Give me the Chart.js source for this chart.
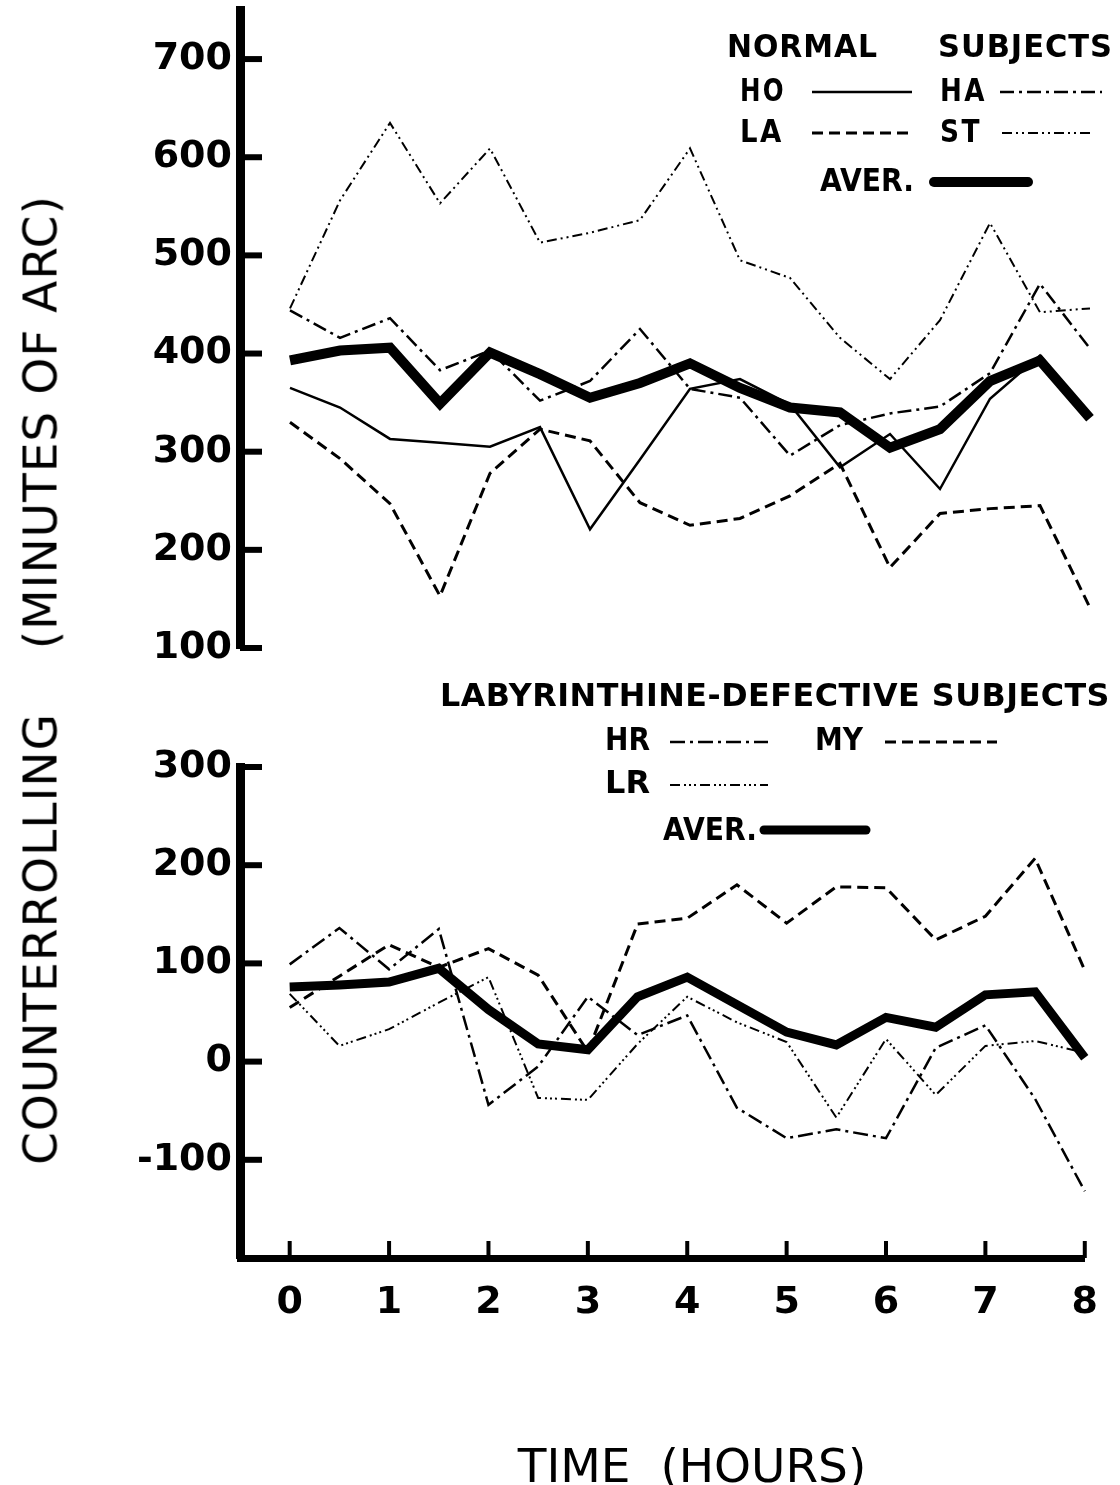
<!DOCTYPE html>
<html>
<head>
<meta charset="utf-8">
<script src="https://cdn.jsdelivr.net/npm/chart.js@4.4.1/dist/chart.umd.min.js"></script>
<style>
  body { margin: 0; background: #fff; }
  #wrap { position: relative; width: 1120px; height: 1485px; background: #fff; overflow: hidden; }
  canvas { position: absolute; left: 0; }
  #topChart { top: 0; }
  #bottomChart { top: 680px; }
  .ytitle {
    position: absolute; left: 40px; top: 680px;
    transform: translate(-50%, -50%) rotate(-90deg);
    font: 47px 'DejaVu Sans'; letter-spacing: 1px; white-space: pre; color: #000;
  }
  .xtitle {
    position: absolute; left: 692px; top: 1465px;
    transform: translate(-50%, -50%);
    font: 47px 'DejaVu Sans'; white-space: pre; color: #000;
  }
</style>
</head>
<body>
<div id="wrap">
  <canvas id="topChart" width="1120" height="680" style="width:1120px;height:680px"></canvas>
  <canvas id="bottomChart" width="1120" height="805" style="width:1120px;height:805px"></canvas>
  <div class="ytitle">COUNTERROLLING    (MINUTES OF ARC)</div>
  <div class="xtitle">TIME  (HOURS)</div>
</div>
<script>
// time in hours, one reading every half hour
const hours = [0, 0.5, 1, 1.5, 2, 2.5, 3, 3.5, 4, 4.5, 5, 5.5, 6, 6.5, 7, 7.5, 8];
const hourTicks = [0, 1, 2, 3, 4, 5, 6, 7, 8];
const topTicks = [100, 200, 300, 400, 500, 600, 700];
const bottomTicks = [-100, 0, 100, 200, 300];

// normal subjects (minutes of arc)
const hoValues = [365, 345, 313, 309, 305, 325, 221, 292, 364, 374, 348, 284, 318, 262, 354, 398, 338];
const laValues = [330, 293, 247, 153, 278, 323, 311, 248, 225, 232, 255, 288, 182, 237, 242, 245, 141];
const haValues = [444, 416, 436, 383, 403, 352, 372, 425, 364, 355, 296, 327, 339, 346, 380, 471, 405];
const stValues = [446, 556, 635, 553, 609, 513, 523, 536, 609, 495, 477, 416, 374, 434, 533, 442, 446];
const normAver = [393, 403, 406, 349, 401, 379, 355, 370, 390, 365, 345, 340, 304, 323, 372, 393, 334];

// labyrinthine-defective subjects
const hrValues = [99, 136, 94, 135, -44, -5, 66, 27, 47, -47, -78, -69, -78, 14, 37, -38, -132];
const myValues = [55, 87, 119, 96, 115, 88, 10, 140, 146, 180, 141, 178, 177, 124, 148, 207, 93];
const lrValues = [69, 16, 33, 60, 86, -37, -39, 18, 66, 40, 20, -57, 23, -34, 16, 21, 9];
const defAver = [76, 78, 81, 95, 53, 18, 12, 66, 86, 58, 30, 17, 45, 35, 68, 71, 4];

const pts = arr => hours.map((h, i) => ({ x: h, y: arr[i] }));

const tickFont = { family: 'DejaVu Sans', size: 38, weight: 'bold' };
// tiny line height so the y labels don't push the plot area down
const yTickFont = { family: 'DejaVu Sans', size: 38, weight: 'bold', lineHeight: 0.05 };
const legendFont = "bold 32px 'DejaVu Sans'";

function line(label, values, width, dash) {
  return {
    label: label,
    data: pts(values),
    borderColor: '#000',
    borderWidth: width,
    borderDash: dash,
    pointRadius: 0,
    tension: 0,
    fill: false,
    clip: false,
    borderJoinStyle: 'miter',
    borderCapStyle: 'butt'
  };
}

// inward tick marks on the y axis, upward ones on the x axis
const tickMarks = {
  id: 'tickMarks',
  afterDraw(chart, args, opts) {
    const { ctx, chartArea, scales } = chart;
    ctx.save();
    ctx.strokeStyle = '#000';
    ctx.lineWidth = 6;
    scales.y.ticks.forEach(t => {
      const y = scales.y.getPixelForValue(t.value);
      ctx.beginPath();
      ctx.moveTo(chartArea.left, y);
      ctx.lineTo(chartArea.left + 22, y);
      ctx.stroke();
    });
    if (opts.xTicks) {
      ctx.lineWidth = 4;
      scales.x.ticks.forEach(t => {
        const x = scales.x.getPixelForValue(t.value);
        ctx.beginPath();
        ctx.moveTo(x, chartArea.bottom);
        ctx.lineTo(x, chartArea.bottom - 17);
        ctx.stroke();
      });
    }
    ctx.restore();
  }
};

// hand placed legend like the original drawing
const keyLegend = {
  id: 'keyLegend',
  afterDraw(chart, args, opts) {
    const ctx = chart.ctx;
    ctx.save();
    ctx.fillStyle = '#000';
    ctx.font = legendFont;
    ctx.textBaseline = 'middle';
    ctx.textAlign = 'left';
    (opts.texts || []).forEach(t => {
      ctx.letterSpacing = (t.ls || 0) + 'px';
      ctx.fillText(t.text, t.x, t.y, t.w);
    });
    ctx.letterSpacing = '0px';
    (opts.samples || []).forEach(s => {
      const ds = chart.data.datasets[s.ds];
      ctx.strokeStyle = '#000';
      ctx.lineWidth = ds.borderWidth;
      ctx.setLineDash(ds.borderDash || []);
      ctx.lineCap = ds.borderWidth > 6 ? 'round' : 'butt';
      ctx.beginPath();
      ctx.moveTo(s.x1, s.y);
      ctx.lineTo(s.x2, s.y);
      ctx.stroke();
    });
    ctx.restore();
  }
};

function yScale(min, max, ticks) {
  return {
    min: min, max: max,
    afterFit: s => { s.width = 240; },
    afterBuildTicks: s => { s.ticks = ticks.map(v => ({ value: v })); },
    grid: { display: false, drawTicks: false },
    border: { display: true, width: 9, color: '#000' },
    ticks: { padding: 8, color: '#000', font: yTickFont }
  };
}

new Chart(document.getElementById('topChart'), {
  type: 'line',
  data: {
    datasets: [
      line('HO', hoValues, 2.5, []),
      line('LA', laValues, 3, [11, 6]),
      line('HA', haValues, 2.5, [14, 5, 3, 5]),
      line('ST', stValues, 2, [10, 4, 2, 4, 2, 4]),
      line('AVER.', normAver, 10, [])
    ]
  },
  options: {
    responsive: false,
    animation: false,
    layout: { padding: { top: 10, right: 30, bottom: 32, left: 0 } },
    plugins: {
      legend: { display: false },
      tooltip: { enabled: false },
      tickMarks: { xTicks: false },
      keyLegend: {
        texts: [
          { text: 'NORMAL', x: 727, y: 49, w: 151, ls: 1 },
          { text: 'SUBJECTS', x: 938, y: 49, w: 175, ls: 1 },
          { text: 'HO', x: 740, y: 93, w: 46, ls: 3 },
          { text: 'HA', x: 940, y: 93, w: 47, ls: 3 },
          { text: 'LA', x: 740, y: 134, w: 44, ls: 3 },
          { text: 'ST', x: 940, y: 134, w: 42, ls: 3 },
          { text: 'AVER.', x: 820, y: 183, w: 94 }
        ],
        samples: [
          { ds: 0, x1: 812, x2: 912, y: 92 },
          { ds: 2, x1: 1000, x2: 1102, y: 92 },
          { ds: 1, x1: 812, x2: 912, y: 133 },
          { ds: 3, x1: 1002, x2: 1094, y: 133 },
          { ds: 4, x1: 934, x2: 1028, y: 182 }
        ]
      }
    },
    scales: {
      x: { type: 'linear', min: -0.5, max: 8, display: false },
      y: yScale(100, 750, topTicks)
    }
  },
  plugins: [tickMarks, keyLegend]
});

new Chart(document.getElementById('bottomChart'), {
  type: 'line',
  data: {
    datasets: [
      line('HR', hrValues, 2.5, [15, 5, 3, 5]),
      line('MY', myValues, 3, [11, 6]),
      line('LR', lrValues, 2, [10, 4, 2, 3, 2, 3, 2, 4]),
      line('AVER.', defAver, 9, [])
    ]
  },
  options: {
    responsive: false,
    animation: false,
    layout: { padding: { top: 87, right: 30, bottom: 0, left: 0 } },
    plugins: {
      legend: { display: false },
      tooltip: { enabled: false },
      tickMarks: { xTicks: true },
      keyLegend: {
        texts: [
          { text: 'LABYRINTHINE-DEFECTIVE SUBJECTS', x: 440, y: 18, w: 670, ls: 0.5 },
          { text: 'HR', x: 605, y: 62, w: 45 },
          { text: 'MY', x: 815, y: 62, w: 48 },
          { text: 'LR', x: 605, y: 105, w: 45 },
          { text: 'AVER.', x: 663, y: 152, w: 94 }
        ],
        samples: [
          { ds: 0, x1: 670, x2: 768, y: 62 },
          { ds: 1, x1: 885, x2: 997, y: 62 },
          { ds: 2, x1: 670, x2: 768, y: 105 },
          { ds: 3, x1: 764, x2: 866, y: 150 }
        ]
      }
    },
    scales: {
      x: {
        type: 'linear', min: -0.5, max: 8,
        afterFit: s => { s.height = 227; },
        afterBuildTicks: s => { s.ticks = hourTicks.map(v => ({ value: v })); },
        grid: { display: false, drawTicks: false },
        border: { display: true, width: 7, color: '#000' },
        ticks: { padding: 22, color: '#000', font: tickFont, autoSkip: false, maxRotation: 0 }
      },
      y: yScale(-200, 300, bottomTicks)
    }
  },
  plugins: [tickMarks, keyLegend]
});
</script>
</body>
</html>
